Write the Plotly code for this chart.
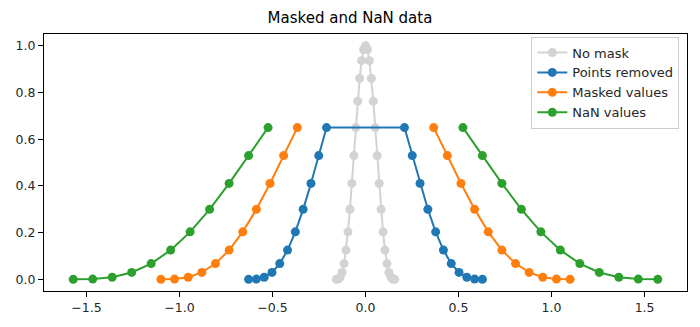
import plotly.graph_objects as go

# ---- data ----
y_values = [0.0, 0.0011, 0.0090, 0.0295, 0.0673, 0.125, 0.2031, 0.2996, 0.4104, 0.5295, 0.6495,
            0.7624, 0.8602, 0.9359, 0.9836, 1.0, 0.9836, 0.9359, 0.8602, 0.7624,
            0.6495, 0.5295, 0.4104, 0.2996, 0.2031, 0.125, 0.0673, 0.0295, 0.0090, 0.0011, 0.0]

x_nomask = [-0.1571, -0.1466, -0.1361, -0.1257, -0.1152, -0.1047, -0.0942, -0.0838, -0.0733, -0.0628, -0.0524,
            -0.0419, -0.0314, -0.0209, -0.0105, 0.0, 0.0105, 0.0209, 0.0314, 0.0419,
            0.0524, 0.0628, 0.0733, 0.0838, 0.0942, 0.1047, 0.1152, 0.1257, 0.1361, 0.1466, 0.1571]

x_removed = [-0.6283, -0.5864, -0.5445, -0.5027, -0.4608, -0.4189, -0.3770, -0.3351, -0.2932, -0.2513, -0.2094,
             0.2094, 0.2513, 0.2932, 0.3351, 0.3770, 0.4189, 0.4608, 0.5027, 0.5445, 0.5864, 0.6283]
y_removed = [0.0, 0.0011, 0.0090, 0.0295, 0.0673, 0.125, 0.2031, 0.2996, 0.4104, 0.5295, 0.6495,
             0.6495, 0.5295, 0.4104, 0.2996, 0.2031, 0.125, 0.0673, 0.0295, 0.0090, 0.0011, 0.0]

x_masked = [-1.0996, -1.0263, -0.9529, -0.8796, -0.8063, -0.7330, -0.6597, -0.5864, -0.5131, -0.4398, -0.3665,
            -0.2932, -0.2199, -0.1466, -0.0733, 0.0, 0.0733, 0.1466, 0.2199, 0.2932,
            0.3665, 0.4398, 0.5131, 0.5864, 0.6597, 0.7330, 0.8063, 0.8796, 0.9529, 1.0263, 1.0996]
y_masked = [0.0, 0.0011, 0.0090, 0.0295, 0.0673, 0.125, 0.2031, 0.2996, 0.4104, 0.5295, 0.6495,
            None, None, None, None, None, None, None, None, None,
            0.6495, 0.5295, 0.4104, 0.2996, 0.2031, 0.125, 0.0673, 0.0295, 0.0090, 0.0011, 0.0]

x_nan = [-1.5708, -1.4661, -1.3614, -1.2566, -1.1519, -1.0472, -0.9425, -0.8378, -0.7330, -0.6283, -0.5236,
         -0.4189, -0.3142, -0.2094, -0.1047, 0.0, 0.1047, 0.2094, 0.3142, 0.4189,
         0.5236, 0.6283, 0.7330, 0.8378, 0.9425, 1.0472, 1.1519, 1.2566, 1.3614, 1.4661, 1.5708]
y_nan = [0.0, 0.0011, 0.0090, 0.0295, 0.0673, 0.125, 0.2031, 0.2996, 0.4104, 0.5295, 0.6495,
         None, None, None, None, None, None, None, None, None,
         0.6495, 0.5295, 0.4104, 0.2996, 0.2031, 0.125, 0.0673, 0.0295, 0.0090, 0.0011, 0.0]

x_ticks = [-1.5, -1.0, -0.5, 0.0, 0.5, 1.0, 1.5]
y_ticks = [0.0, 0.2, 0.4, 0.6, 0.8, 1.0]

series = [
    ("No mask", x_nomask, y_values, "#d3d3d3"),
    ("Points removed", x_removed, y_removed, "#1f77b4"),
    ("Masked values", x_masked, y_masked, "#ff7f0e"),
    ("NaN values", x_nan, y_nan, "#2ca02c"),
]

fig = go.Figure()
for name, xs, ys, col in series:
    fig.add_trace(go.Scatter(
        x=xs, y=ys, name=name, mode="lines+markers",
        line=dict(color=col, width=2),
        marker=dict(color=col, size=9),
        connectgaps=False,
    ))

font = "DejaVu Sans"
fig.update_layout(
    width=700, height=327,
    margin=dict(l=44, r=13, t=34, b=36),
    paper_bgcolor="white", plot_bgcolor="white",
    font=dict(family=font, size=12.5, color="#262626"),
    title=dict(text="Masked and NaN data", x=0.5, xanchor="center",
               y=1 - 18 / 327, yanchor="middle", yref="container",
               font=dict(family=font, size=15, color="black")),
    showlegend=True,
    legend=dict(x=0.988, y=0.99, xanchor="right", yanchor="top",
                bgcolor="rgba(255,255,255,0.8)", bordercolor="#cccccc", borderwidth=1,
                font=dict(family=font, size=13, color="#262626"),
                tracegroupgap=0, itemwidth=30),
)
fig.update_xaxes(range=[-1.7279, 1.7279], tickvals=x_ticks,
                 ticktext=["\u22121.5", "\u22121.0", "\u22120.5", "0.0", "0.5", "1.0", "1.5"],
                 showgrid=False, zeroline=False, showline=True, linecolor="black", linewidth=1,
                 mirror=True, ticks="outside", ticklen=5, tickcolor="black", tickwidth=1)
fig.update_yaxes(range=[-0.05, 1.05], tickvals=y_ticks,
                 ticktext=["0.0", "0.2", "0.4", "0.6", "0.8", "1.0"],
                 showgrid=False, zeroline=False, showline=True, linecolor="black", linewidth=1,
                 mirror=True, ticks="outside", ticklen=5, tickcolor="black", tickwidth=1)

fig.write_html("out.html")
